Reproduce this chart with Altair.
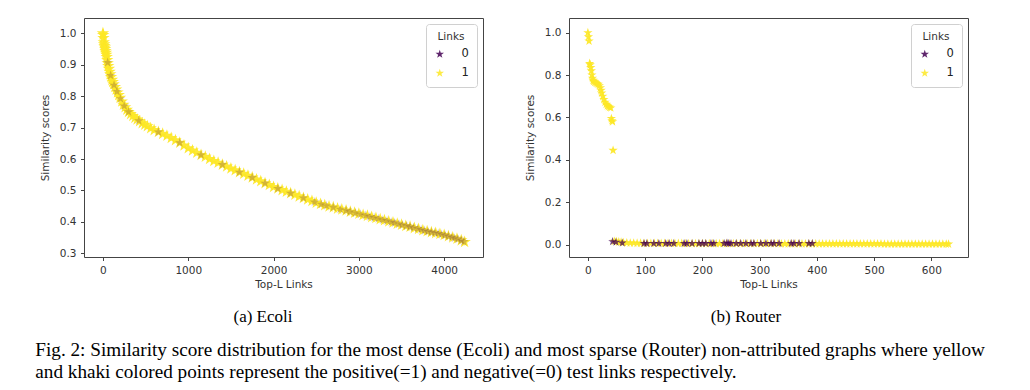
import altair as alt
import pandas as pd

# ---------------- data ----------------
ecoli_pos_x = [0, 3, 6, 10, 14, 18, 22, 26, 30, 35,
               40, 45, 50, 56, 62, 70, 78, 86, 95, 105,
               115, 125, 140, 155, 170, 185, 200, 220, 240, 260,
               280, 300, 325, 350, 375, 400, 430, 460, 490, 520,
               560, 600, 650, 700, 750, 800, 850, 900, 950,
               1000, 1050, 1100, 1150, 1200, 1250, 1300, 1350, 1400, 1450,
               1500, 1550, 1600, 1650, 1700, 1750, 1800, 1850, 1900, 1950,
               2000, 2050, 2100, 2150, 2200, 2250, 2300, 2350, 2400, 2450,
               2500, 2550, 2600, 2650, 2700, 2750, 2800, 2850, 2900, 2950,
               3000, 3050, 3100, 3150, 3200, 3250, 3300, 3350, 3400, 3450,
               3500, 3550, 3600, 3650, 3700, 3750, 3800, 3850, 3900, 3950,
               4000, 4050, 4100, 4150, 4200, 4240]
ecoli_pos_y = [1.000, 0.995, 0.985, 0.972, 0.965, 0.960, 0.955, 0.950, 0.944, 0.938,
               0.932, 0.925, 0.915, 0.905, 0.896, 0.887, 0.878, 0.870, 0.861, 0.852,
               0.845, 0.838, 0.829, 0.821, 0.812, 0.804, 0.795, 0.783, 0.773, 0.765,
               0.757, 0.750, 0.743, 0.737, 0.731, 0.726, 0.720, 0.714, 0.709, 0.704,
               0.698, 0.692, 0.686, 0.680, 0.674, 0.667, 0.660, 0.652, 0.643,
               0.634, 0.627, 0.620, 0.613, 0.607, 0.600, 0.594, 0.588, 0.582, 0.576,
               0.570, 0.564, 0.558, 0.553, 0.547, 0.541, 0.535, 0.529, 0.523, 0.517,
               0.511, 0.506, 0.501, 0.496, 0.491, 0.486, 0.481, 0.476, 0.471, 0.466,
               0.461, 0.457, 0.453, 0.449, 0.446, 0.442, 0.439, 0.436, 0.432, 0.429,
               0.426, 0.422, 0.419, 0.415, 0.412, 0.408, 0.405, 0.401, 0.398, 0.394,
               0.391, 0.387, 0.384, 0.380, 0.377, 0.373, 0.370, 0.367, 0.364, 0.361,
               0.358, 0.354, 0.350, 0.346, 0.341, 0.336]

ecoli_neg_x = [55, 90, 130, 165, 205, 250, 300, 420,
               650, 900, 1150, 1400, 1600, 1750, 1900, 2050, 2200, 2350,
               2480, 2560, 2620, 2700, 2780, 2850, 2900, 2960, 3020, 3080,
               3130, 3180, 3230, 3280, 3330, 3380, 3420, 3470, 3510, 3560,
               3600, 3640, 3690, 3730, 3770, 3810, 3850, 3890, 3930, 3970,
               4010, 4050, 4090, 4120, 4160, 4200, 4230]
ecoli_neg_y = [0.907, 0.866, 0.835, 0.815, 0.792, 0.769, 0.750, 0.722,
               0.686, 0.652, 0.613, 0.582, 0.558, 0.541, 0.523, 0.506, 0.491, 0.476,
               0.463, 0.456, 0.451, 0.446, 0.440, 0.436, 0.432, 0.428, 0.424, 0.420,
               0.416, 0.413, 0.410, 0.406, 0.403, 0.399, 0.397, 0.393, 0.390, 0.387,
               0.384, 0.381, 0.378, 0.375, 0.372, 0.369, 0.367, 0.365, 0.363, 0.360,
               0.357, 0.354, 0.351, 0.348, 0.345, 0.341, 0.337]

router_head_x = [0, 1, 2, 3, 4, 5, 6, 7, 8, 9, 10,
                 12, 14, 16, 18, 20, 22,
                 23, 24, 26, 28, 30, 32, 34, 36, 38, 40,
                 41, 42, 43, 44]
router_head_y = [1.000, 0.980, 0.960, 0.855, 0.848, 0.835, 0.820, 0.800, 0.785, 0.775, 0.770,
                 0.766, 0.763, 0.760, 0.756, 0.750, 0.740,
                 0.728, 0.715, 0.700, 0.685, 0.672, 0.662, 0.655, 0.652, 0.648, 0.645,
                 0.595, 0.585, 0.580, 0.445]

router_tail_x = [46, 50, 54, 58, 62, 68, 74, 80, 86, 92,
                 98, 104, 110, 116, 122, 128, 134, 140, 146, 152,
                 158, 164, 170, 176, 182, 188, 194, 200, 206, 212,
                 218, 224, 230, 236, 242, 248, 254, 260, 266, 272,
                 278, 284, 290, 296, 302, 308, 314, 320, 326, 332,
                 338, 344, 350, 356, 362, 368, 374, 380, 386, 392,
                 398, 404, 410, 416, 422, 428, 434, 440, 446, 452,
                 458, 464, 470, 476, 482, 488, 494, 500, 506, 512,
                 518, 524, 530, 536, 542, 548, 554, 560, 566, 572,
                 578, 584, 590, 596, 602, 608, 614, 620, 626, 630]
router_tail_y = [0.016, 0.015, 0.013, 0.012, 0.010, 0.009, 0.008, 0.008, 0.007, 0.007,
                 0.006, 0.006, 0.006, 0.006, 0.006, 0.006, 0.006, 0.006, 0.006, 0.006,
                 0.006, 0.006, 0.005, 0.005, 0.005, 0.005, 0.005, 0.005, 0.005, 0.005,
                 0.005, 0.005, 0.005, 0.005, 0.005, 0.005, 0.005, 0.005, 0.005, 0.005,
                 0.005, 0.005, 0.005, 0.005, 0.005, 0.005, 0.005, 0.005, 0.005, 0.005,
                 0.004, 0.004, 0.004, 0.004, 0.004, 0.004, 0.004, 0.004, 0.004, 0.004,
                 0.004, 0.004, 0.004, 0.004, 0.004, 0.004, 0.004, 0.004, 0.004, 0.004,
                 0.004, 0.004, 0.004, 0.004, 0.004, 0.004, 0.004, 0.004, 0.004, 0.004,
                 0.003, 0.003, 0.003, 0.003, 0.003, 0.003, 0.003, 0.003, 0.003, 0.003,
                 0.003, 0.003, 0.003, 0.003, 0.003, 0.003, 0.003, 0.003, 0.003, 0.003]

router_neg_x = [43, 49, 60, 98, 103, 115, 124, 136, 142, 150,
                168, 173, 182, 194, 200, 206, 215, 220, 238, 243,
                246, 250, 259, 267, 276, 285, 290, 302, 311, 320,
                325, 334, 355, 360, 369, 386, 392]
router_neg_y = [0.015, 0.012, 0.008, 0.006, 0.006, 0.006, 0.006, 0.006, 0.006, 0.006,
                0.006, 0.006, 0.006, 0.006, 0.006, 0.006, 0.006, 0.006, 0.006, 0.008,
                0.006, 0.006, 0.006, 0.006, 0.006, 0.006, 0.006, 0.006, 0.006, 0.006,
                0.006, 0.006, 0.006, 0.006, 0.006, 0.006, 0.006]

ecoli_x_ticks = [0, 1000, 2000, 3000, 4000]
ecoli_y_ticks = [0.3, 0.4, 0.5, 0.6, 0.7, 0.8, 0.9, 1.0]
router_x_ticks = [0, 100, 200, 300, 400, 500, 600]
router_y_ticks = [0.0, 0.2, 0.4, 0.6, 0.8, 1.0]
link_classes = ["0", "1"]

caption_lines = [
    "Fig. 2: Similarity score distribution for the most dense (Ecoli) and most sparse (Router) non-attributed graphs where yellow",
    "and khaki colored points represent the positive(=1) and negative(=0) test links respectively.",
]

# ---------------- style ----------------
PURPLE = "#440154"
YELLOW = "#fde725"
STAR = ("M0,-1L0.2245,-0.309L0.9511,-0.309L0.3633,0.118L0.5878,0.809L0,0.382"
        "L-0.5878,0.809L-0.3633,0.118L-0.9511,-0.309L-0.2245,-0.309Z")
W, H = 399, 239


def frame(xs, ys, label):
    return pd.DataFrame({"rank": xs, "score": ys, "Links": label})


def panel(pos_df, neg_df, xdom, xticks, ydom, yticks, caption, cap_x,
          size, neg_size, neg_opacity):
    color = alt.Color(
        "Links:N",
        scale=alt.Scale(domain=link_classes, range=[PURPLE, YELLOW]),
        legend=alt.Legend(title="Links", orient="top-right", offset=6,
                          symbolType=STAR, symbolSize=80, symbolOpacity=0.85,
                          symbolStrokeWidth=0),
    )
    x = alt.X("rank:Q", scale=alt.Scale(domain=xdom, nice=False, zero=False),
              axis=alt.Axis(values=xticks, format="d", title="Top-L Links",
                            titlePadding=4))
    y = alt.Y("score:Q", scale=alt.Scale(domain=ydom, nice=False, zero=False),
              axis=alt.Axis(values=yticks, format=".1f", title="Similarity scores",
                            titlePadding=8.5))
    pos = alt.Chart(pos_df).mark_point(shape=STAR, filled=True, size=size,
                                       opacity=0.92, strokeWidth=0).encode(
        x=x, y=y, color=color)
    neg = alt.Chart(neg_df).mark_point(shape=STAR, filled=True, size=neg_size,
                                       opacity=neg_opacity, strokeWidth=0).encode(
        x=x, y=y, color=color)
    cap = alt.Chart(pd.DataFrame({"t": [caption]})).mark_text(
        font="Liberation Serif", fontSize=17, color="black").encode(
        x=alt.value(cap_x), y=alt.value(299), text="t:N")
    return alt.layer(pos, neg, cap).properties(width=W, height=H)


ecoli = panel(frame(ecoli_pos_x, ecoli_pos_y, "1"),
              frame(ecoli_neg_x, ecoli_neg_y, "0"),
              [-222, 4455], ecoli_x_ticks, [0.288, 1.049], ecoli_y_ticks,
              "(a) Ecoli", 179, 170, 100, 0.22)

router_pos = pd.concat([frame(router_head_x, router_head_y, "1"),
                        frame(router_tail_x, router_tail_y, "1")])
router = panel(router_pos,
               frame(router_neg_x, router_neg_y, "0"),
               [-33, 664], router_x_ticks, [-0.058, 1.069], router_y_ticks,
               "(b) Router", 177, 95, 80, 0.75)

chart = alt.hconcat(ecoli, router, spacing=41).resolve_legend(
    color="independent"
).properties(
    padding={"left": 27, "top": 9, "right": 5, "bottom": 5},
    title=alt.TitleParams(text=caption_lines, orient="bottom", anchor="start",
                          font="Liberation Serif", fontSize=19.2,
                          fontWeight="normal", color="black", lineHeight=22,
                          offset=15, dx=-5),
).configure_view(
    stroke="#444", strokeWidth=1
).configure_axis(
    domain=False, grid=False, tickColor="#444", tickSize=3.5, labelPadding=4.5,
    labelFont="DejaVu Sans", labelFontSize=10.5, labelColor="#333",
    titleFont="DejaVu Sans", titleFontSize=10.5, titleFontWeight="normal",
    titleColor="#333",
).configure_legend(
    padding=8, strokeColor="#d0d0d0", cornerRadius=3, fillColor="white",
    titleFont="DejaVu Sans", titleFontSize=10.5, titleFontWeight="normal",
    titleColor="#333", titleAnchor="middle", titleAlign="center", titlePadding=6,
    labelFont="DejaVu Sans", labelFontSize=11.5, labelColor="#222",
    labelOffset=16, rowPadding=6,
)

chart.save("out.html", embed_options={"renderer": "svg", "actions": False})
